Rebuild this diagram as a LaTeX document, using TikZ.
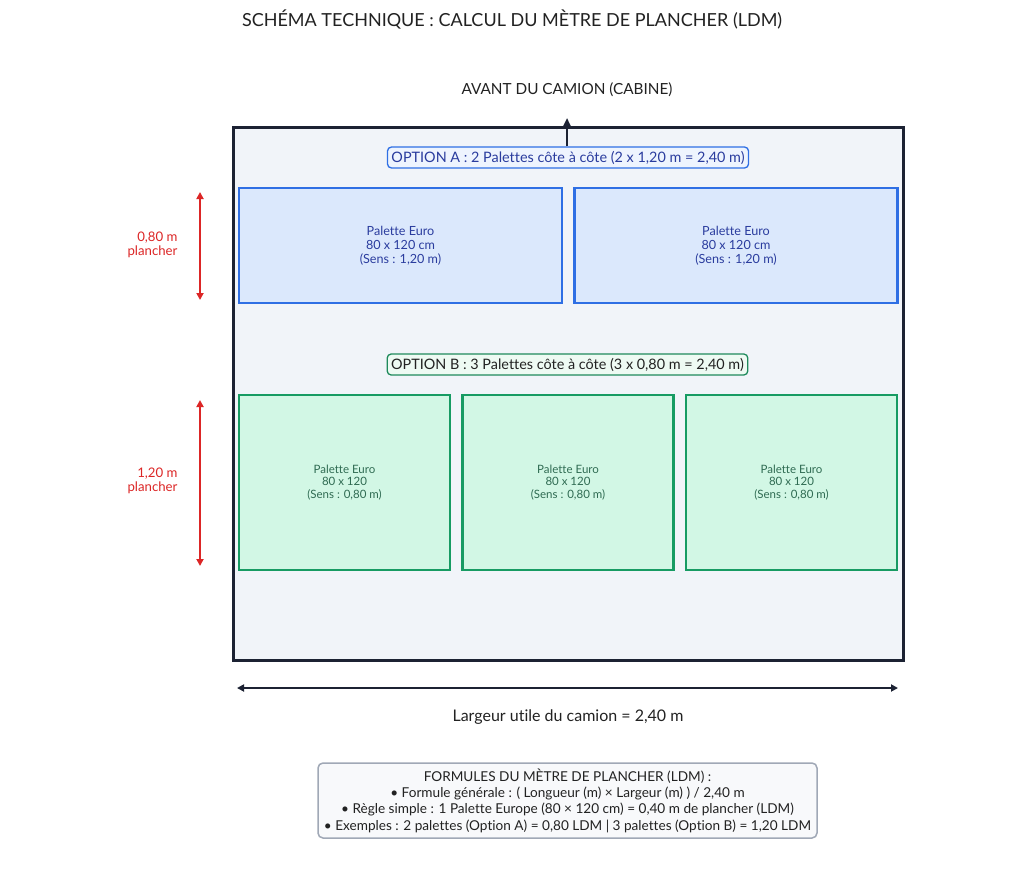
\documentclass[tikz,border=0pt]{standalone}
\usepackage{fontspec}
\setmainfont[Ligatures=CommonOff]{Lato}
\usetikzlibrary{positioning, arrows.meta}

\definecolor{navy}{HTML}{1C2233}
\definecolor{truckbg}{HTML}{F1F4F9}
\definecolor{blueline}{HTML}{2F6FE4}
\definecolor{bluefill}{HTML}{DBE8FC}
\definecolor{bluetext}{HTML}{2A3C9E}
\definecolor{optafill}{HTML}{EEF4FE}
\definecolor{greenline}{HTML}{179B63}
\definecolor{greenfill}{HTML}{D2F7E5}
\definecolor{greentext}{HTML}{2F6B52}
\definecolor{optbfill}{HTML}{EEFAF3}
\definecolor{optbline}{HTML}{1F8A5C}
\definecolor{dimred}{HTML}{DC2626}
\definecolor{formline}{HTML}{A0A8B6}
\definecolor{formfill}{HTML}{F8F9FB}
\definecolor{ink}{HTML}{222222}

\begin{document}
\begin{tikzpicture}[
    x=1pt, y=-1pt,
    node distance=10pt,
    truck/.style={
        draw=navy,
        line width=3pt,
        fill=truckbg,
        minimum width=670pt,
        minimum height=532pt,
        inner sep=0pt
    },
    palA/.style={
        draw=blueline,
        line width=2.5pt,
        fill=bluefill,
        text=bluetext,
        minimum width=323pt,
        minimum height=115pt,
        align=center,
        font=\fontsize{12.6}{14}\selectfont
    },
    palB/.style={
        draw=greenline,
        line width=2.5pt,
        fill=greenfill,
        text=greentext,
        minimum width=211pt,
        minimum height=175pt,
        align=center,
        font=\fontsize{11.5}{12.5}\selectfont
    },
    optlabel/.style={
        rounded corners=4pt,
        line width=1.3pt,
        inner xsep=4pt,
        minimum height=21pt,
        font=\fontsize{14.4}{16}\selectfont
    },
    dim/.style={dimred, line width=2pt, {Triangle[width=7pt,length=7pt]}-{Triangle[width=7pt,length=7pt]}},
    dimlabel/.style={text=dimred, align=right, anchor=east, font=\fontsize{13.2}{14}\selectfont},
    edge/.style={navy, line width=2pt}
]

\useasboundingbox[fill=white] (0,0) rectangle (1024,869);

% title and cabin
\node[text=ink, font=\fontsize{18}{20}\selectfont] (title) at (512,20) {SCHÉMA TECHNIQUE : CALCUL DU MÈTRE DE PLANCHER (LDM)};
\node[text=ink, font=\fontsize{15.3}{16}\selectfont] (front) at (567,90) {AVANT DU CAMION (CABINE)};

% truck floor
\node[truck] (truck) at (568,394) {};

% option A
\node[optlabel, draw=blueline, fill=optafill, text=bluetext] (optA) at (568,157.5) {OPTION A : 2 Palettes côte à côte (2 x 1,20 m = 2,40 m)};
\coordinate (cab) at (567,118);
\draw[edge, -{Triangle[width=7pt,length=8pt]}] (optA.north -| cab) -- (cab);

\node[palA] (a1) at (400.5,245.5) {Palette Euro\\80 x 120 cm\\(Sens : 1,20 m)};
\node[palA] (a2) [right=of a1] {Palette Euro\\80 x 120 cm\\(Sens : 1,20 m)};

% option B
\node[optlabel, draw=optbline, fill=optbfill, text=ink] (optB) at (567.5,364.5) {OPTION B : 3 Palettes côte à côte (3 x 0,80 m = 2,40 m)};

\node[palB] (b1) at (344.5,482.5) {Palette Euro\\80 x 120\\(Sens : 0,80 m)};
\node[palB] (b2) [right=of b1] {Palette Euro\\80 x 120\\(Sens : 0,80 m)};
\node[palB] (b3) [right=of b2] {Palette Euro\\80 x 120\\(Sens : 0,80 m)};

% dimensions on the left
\coordinate (da1) at (200,192);
\coordinate (da2) at (200,300);
\draw[dim] (da1) -- (da2);
\node[dimlabel] (la) at (181,245) {0,80 m\\plancher};

\coordinate (db1) at (200,400);
\coordinate (db2) at (200,566);
\draw[dim] (db1) -- (db2);
\node[dimlabel] (lb) at (181,481) {1,20 m\\plancher};

% useful width
\coordinate (w1) at (237,688);
\coordinate (w2) at (898,688);
\draw[edge, {Triangle[width=7pt,length=7pt]}-{Triangle[width=7pt,length=7pt]}] (w1) -- (w2);
\node[text=ink, font=\fontsize{16}{18}\selectfont] (width) at (568,717) {Largeur utile du camion = 2,40 m};

% formulas
\node[draw=formline, fill=formfill, line width=1.5pt, rounded corners=5pt,
      minimum width=499pt, minimum height=75pt, inner xsep=2pt, align=center, text=ink,
      font=\fontsize{13.6}{16.3}\selectfont] (formula) at (567.5,800.5)
    {FORMULES DU MÈTRE DE PLANCHER (LDM) :\\
     • Formule générale : ( Longueur (m) × Largeur (m) ) / 2,40 m\\
     • Règle simple : 1 Palette Europe (80 × 120 cm) = 0,40 m de plancher (LDM)\\
     • Exemples : 2 palettes (Option A) = 0,80 LDM | 3 palettes (Option B) = 1,20 LDM};

\end{tikzpicture}
\end{document}
